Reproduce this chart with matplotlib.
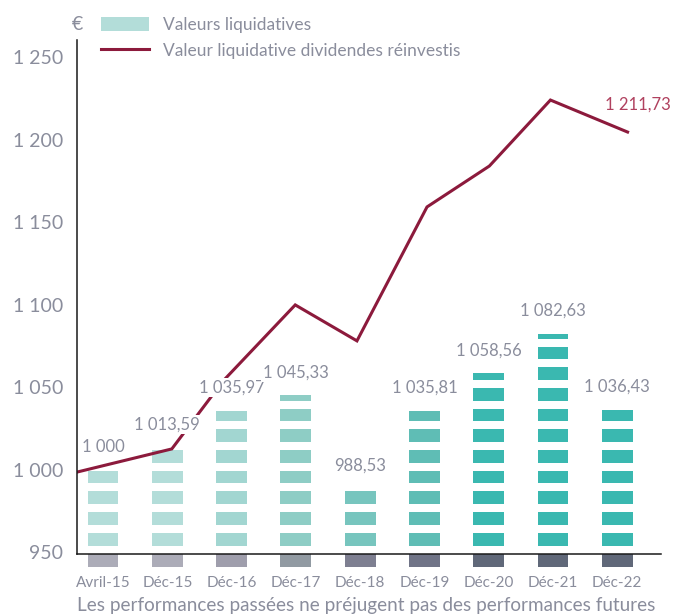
import numpy as np
import matplotlib
matplotlib.use("Agg")
import matplotlib.pyplot as plt
from matplotlib.patches import Patch
from matplotlib.lines import Line2D

plt.rcParams['font.family'] = ['Lato', 'DejaVu Sans']

# data
periods = ['Avril-15', 'Déc-15', 'Déc-16', 'Déc-17', 'Déc-18', 'Déc-19', 'Déc-20', 'Déc-21', 'Déc-22']
vl = [1000.00, 1013.59, 1035.97, 1045.33, 988.53, 1035.81, 1058.56, 1082.63, 1036.43]
vl_labels = ['1 000', '1 013,59', '1 035,97', '1 045,33', '988,53', '1 035,81', '1 058,56', '1 082,63', '1 036,43']

# dividends reinvested line (x in bar slots, as drawn)
reinv_x = [-0.39, 1.07, 1.87, 2.99, 3.95, 5.04, 6.01, 6.96, 8.16]
reinv_y = [998.8, 1012.7, 1054.0, 1100.0, 1078.2, 1159.4, 1184.2, 1224.2, 1204.8]
reinv_last_label = '1 211,73'

yticks = [950, 1000, 1050, 1100, 1150, 1200, 1250]
ytick_labels = ['950', '1 000', '1 050', '1 100', '1 150', '1 200', '1 250']

bar_colors = ['#b3ddd9', '#b3ddd9', '#a2d6d1', '#8ecdc5', '#77c5be', '#5fbdb5', '#3ab8b0', '#3ab8b0', '#3ab8b0']
base_colors = ['#acacb8', '#acacb8', '#9f9eac', '#919aa2', '#7e7f91', '#707487', '#606879', '#606879', '#606879']

grey = '#8a8d9c'
wine = '#8c1a3c'

fig = plt.figure(figsize=(6.73, 6.14), dpi=100)
ax = fig.add_axes([77/673, 1 - 554/614, (661 - 77)/673, (554 - 40)/614])

ymin, ymax = 949.0, 1260.6
ax.set_ylim(ymin, ymax)
ax.set_xlim(-0.405, 8.68)

# striped bars
x = np.arange(len(periods))
bw = 0.48
stripe_start, stripe_step, stripe_h = 954.1, 12.55, 7.7
for i, v in enumerate(vl):
    b = stripe_start
    while b < v:
        h = min(stripe_h, v - b)
        ax.bar(x[i], h, bottom=b, width=bw, color=bar_colors[i], linewidth=0, zorder=1)
        b += stripe_step
    # grey foot below the axis
    ax.bar(x[i], -7.8, bottom=ymin, width=bw, color=base_colors[i], linewidth=0, clip_on=False, zorder=1)

ax.plot(reinv_x, reinv_y, color=wine, lw=2.2, zorder=2, solid_joinstyle='miter')

for i, v in enumerate(vl):
    ax.annotate(vl_labels[i], (x[i], v), xytext=(0, 16.5), textcoords='offset points',
                ha='center', va='center', fontsize=12, color=grey, zorder=4,
                bbox=dict(boxstyle='square,pad=0.1', fc='white', ec='none'))

ax.annotate(reinv_last_label, (reinv_x[-1], reinv_y[-1]), xytext=(31, 20), textcoords='offset points',
            ha='right', va='center', fontsize=12, color='#b0415f')

ax.set_yticks(yticks)
ax.set_yticklabels(ytick_labels)
ax.set_xticks(x)
ax.set_xticklabels(periods)
ax.tick_params(axis='y', length=0, pad=10, labelsize=14, labelcolor=grey)
ax.tick_params(axis='x', length=0, pad=16, labelsize=11, labelcolor=grey)

for s in ['top', 'right']:
    ax.spines[s].set_visible(False)
for s in ['left', 'bottom']:
    ax.spines[s].set_color('#1a1a1a')
    ax.spines[s].set_linewidth(1.1)

handles = [Patch(facecolor='#b3ddd9', edgecolor='none', label='Valeurs liquidatives'),
           Line2D([], [], color=wine, lw=2.2, label='Valeur liquidative dividendes réinvestis')]
leg = fig.legend(handles=handles, loc='upper left', bbox_to_anchor=(101/673, 1 - 17/614),
                 frameon=False, fontsize=12.5, handlelength=2.76, handleheight=0.86,
                 handletextpad=0.8, labelspacing=0.55, borderpad=0, borderaxespad=0)
for t in leg.get_texts():
    t.set_color(grey)

fig.text(77/673, 1 - 24/614, '€', ha='center', va='center', fontsize=14, color=grey)
fig.text(77/673, 1 - 606/614, 'Les performances passées ne préjugent pas des performances futures',
         ha='left', va='center', fontsize=13.6, color=grey)

fig.savefig('out.png', dpi=100)
